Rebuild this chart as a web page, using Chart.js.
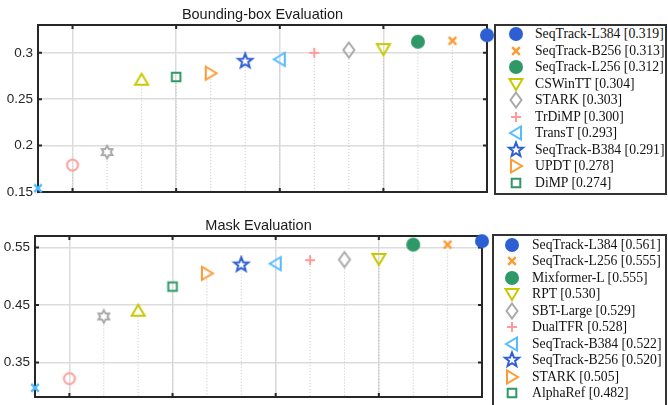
<!DOCTYPE html>
<html>
<head>
<meta charset="utf-8">
<script src="https://cdn.jsdelivr.net/npm/chart.js@4.4.1/dist/chart.umd.min.js"></script>
<style>
  html, body { margin: 0; padding: 0; background: #fff; }
  body { width: 668px; height: 405px; position: relative; overflow: hidden; }
  .plot { position: absolute; left: 0; }
  .legend {
    position: absolute; box-sizing: border-box; border: 2px solid #333; background: #fff;
    font-family: "Liberation Serif", serif; font-size: 13.7px; color: #111;
  }
  .legend .row { position: absolute; left: 0; right: 0; height: 16.5px; }
  .legend canvas { position: absolute; }
  .legend span { position: absolute; line-height: 16.5px; white-space: nowrap; }
</style>
</head>
<body>
<div class="plot" style="top:0;width:500px;height:200px"><canvas id="bboxChart"></canvas></div>
<div class="plot" style="top:200px;width:495px;height:205px"><canvas id="maskChart"></canvas></div>
<div class="legend" id="bboxLegend" style="left:494px;top:24px;width:173px;height:171px"></div>
<div class="legend" id="maskLegend" style="left:492px;top:234px;width:175px;height:180px"></div>
<script>
// ranked best -> worst; only the first ten appear in the legends
const bboxNames = ['SeqTrack-L384', 'SeqTrack-B256', 'SeqTrack-L256', 'CSWinTT', 'STARK',
  'TrDiMP', 'TransT', 'SeqTrack-B384', 'UPDT', 'DiMP'];
const bboxScores = [0.319, 0.313, 0.312, 0.304, 0.303, 0.300, 0.293, 0.291, 0.278, 0.274,
  0.271, 0.193, 0.179, 0.154];
const bboxTicks = [0.15, 0.2, 0.25, 0.3];

const maskNames = ['SeqTrack-L384', 'SeqTrack-L256', 'Mixformer-L', 'RPT', 'SBT-Large',
  'DualTFR', 'SeqTrack-B384', 'SeqTrack-B256', 'STARK', 'AlphaRef'];
const maskScores = [0.561, 0.555, 0.555, 0.530, 0.529, 0.528, 0.522, 0.520, 0.505, 0.482,
  0.440, 0.430, 0.322, 0.306];
const maskTicks = [0.35, 0.45, 0.55];

const rankTicks = [1, 4, 7, 10];

// marker style per rank
const shapes = ['disc', 'x', 'disc', 'triDown', 'diamond', 'plus', 'triLeft', 'star',
  'triRight', 'square', 'triUp', 'hexagram', 'ring', 'x'];
const colors = ['#2d5fd3', '#ff9933', '#2e9966', '#c8c800', '#aaaaaa', '#ff9a9a', '#55bbff',
  '#2d5fd3', '#ff9933', '#2e9966', '#c8c800', '#aaaaaa', '#ff9a9a', '#55bbff'];

function poly(g, pts) {
  g.moveTo(pts[0][0], pts[0][1]);
  pts.slice(1).forEach(p => g.lineTo(p[0], p[1]));
  g.closePath();
}

function starPts(n, ro, ri) {
  const pts = [];
  for (let k = 0; k < 2 * n; k++) {
    const r = k % 2 ? ri : ro;
    const a = -Math.PI / 2 + k * Math.PI / n;
    pts.push([r * Math.cos(a), r * Math.sin(a)]);
  }
  return pts;
}

function makeMarker(shape, color) {
  const c = document.createElement('canvas');
  c.width = 20; c.height = 20;
  const g = c.getContext('2d');
  g.translate(10, 10);
  g.strokeStyle = color;
  g.fillStyle = color;
  g.lineWidth = 2;
  g.beginPath();
  switch (shape) {
    case 'disc': g.arc(0, 0, 7, 0, Math.PI * 2); g.fill(); return c;
    case 'ring': g.arc(0, 0, 5.5, 0, Math.PI * 2); break;
    case 'x': g.moveTo(-3.8, -3.8); g.lineTo(3.8, 3.8); g.moveTo(3.8, -3.8); g.lineTo(-3.8, 3.8); g.lineWidth = 2.4; break;
    case 'plus': g.moveTo(-5, 0); g.lineTo(5, 0); g.moveTo(0, -5); g.lineTo(0, 5); break;
    case 'square': g.rect(-4.3, -4.3, 8.6, 8.6); break;
    case 'diamond': poly(g, [[0, -7.5], [5.5, 0], [0, 7.5], [-5.5, 0]]); break;
    case 'triUp': poly(g, [[0, -6], [6.5, 5], [-6.5, 5]]); break;
    case 'triDown': poly(g, [[0, 6], [6.5, -5], [-6.5, -5]]); break;
    case 'triRight': poly(g, [[6, 0], [-5, -6.5], [-5, 6.5]]); break;
    case 'triLeft': poly(g, [[-6, 0], [5, -6.5], [5, 6.5]]); break;
    case 'star': poly(g, starPts(5, 7.5, 3.2)); break;
    case 'hexagram': poly(g, starPts(6, 6.2, 3.6)); break;
  }
  g.stroke();
  return c;
}

// frame, inward ticks, dotted stems and the title
const framePlugin = {
  id: 'frame',
  beforeDatasetsDraw(chart, args, opts) {
    const { ctx, chartArea: a, scales: { x, y } } = chart;
    ctx.save();
    ctx.strokeStyle = '#c4c4c4';
    ctx.lineWidth = 1;
    ctx.setLineDash([1, 2]);
    chart.data.datasets.forEach((ds, i) => {
      const pt = chart.getDatasetMeta(i).data[0];
      ctx.beginPath();
      ctx.moveTo(pt.x, pt.y + 6);
      ctx.lineTo(pt.x, a.bottom);
      ctx.stroke();
    });
    ctx.setLineDash([]);
    ctx.strokeStyle = '#262626';
    ctx.lineWidth = 2;
    ctx.strokeRect(a.left, a.top, a.width, a.height);
    ctx.beginPath();
    rankTicks.forEach(v => {
      const px = x.getPixelForValue(v);
      ctx.moveTo(px, a.top); ctx.lineTo(px, a.top + 4);
      ctx.moveTo(px, a.bottom); ctx.lineTo(px, a.bottom - 4);
    });
    opts.ticks.forEach(v => {
      const py = y.getPixelForValue(v);
      ctx.moveTo(a.left, py); ctx.lineTo(a.left + 4, py);
      ctx.moveTo(a.right, py); ctx.lineTo(a.right - 4, py);
    });
    ctx.stroke();
    ctx.fillStyle = '#1a1a1a';
    ctx.font = '14.5px "Liberation Sans"';
    ctx.textAlign = 'center';
    ctx.textBaseline = 'middle';
    ctx.fillText(opts.title, (a.left + a.right) / 2, opts.titleY);
    ctx.restore();
  }
};

function makeChart(id, names, scores, ticks, yMin, yMax, axisW, pad, title, titleY) {
  const last = scores.length - 1;
  return new Chart(document.getElementById(id), {
    type: 'scatter',
    data: {
      datasets: scores.map((s, i) => ({
        label: names[i] || '',
        data: [{ x: last - i, y: s }],
        pointStyle: makeMarker(shapes[i], colors[i]),
        pointRadius: 7,
        clip: false
      }))
    },
    options: {
      responsive: true,
      maintainAspectRatio: false,
      animation: false,
      layout: { padding: pad },
      plugins: {
        legend: { display: false },
        tooltip: { enabled: false },
        frame: { ticks: ticks, title: title, titleY: titleY }
      },
      scales: {
        x: {
          type: 'linear', min: 0, max: last,
          afterBuildTicks: s => { s.ticks = rankTicks.map(v => ({ value: v })); },
          ticks: { display: false },
          grid: { color: '#dcdcdc', lineWidth: 1.5, drawTicks: false },
          border: { display: false }
        },
        y: {
          min: yMin, max: yMax,
          afterBuildTicks: s => { s.ticks = ticks.map(v => ({ value: v })); },
          afterFit: s => { s.width = axisW; s.paddingTop = 0; s.paddingBottom = 0; },
          ticks: {
            padding: 5, color: '#262626',
            font: { family: '"Liberation Sans"', size: 13.5 },
            callback: v => String(v)
          },
          grid: { color: '#dcdcdc', lineWidth: 1.5, drawTicks: false },
          border: { display: false }
        }
      }
    },
    plugins: [framePlugin]
  });
}

function buildLegend(id, names, scores, markerX, textX, top0) {
  const box = document.getElementById(id);
  names.forEach((n, i) => {
    const row = document.createElement('div');
    row.className = 'row';
    row.style.top = (top0 + i * 16.5) + 'px';
    const m = makeMarker(shapes[i], colors[i]);
    m.style.left = (markerX - 10) + 'px';
    m.style.top = '-1.75px';
    const t = document.createElement('span');
    t.style.left = textX + 'px';
    t.textContent = n + ' [' + scores[i].toFixed(3) + ']';
    row.appendChild(m);
    row.appendChild(t);
    box.appendChild(row);
  });
}

makeChart('bboxChart', bboxNames, bboxScores, bboxTicks, 0.15, 0.33, 38,
  { top: 25, bottom: 7, left: 0, right: 13 }, 'Bounding-box Evaluation', 15);
makeChart('maskChart', maskNames, maskScores, maskTicks, 0.29, 0.57, 35,
  { top: 36, bottom: 1, left: 0, right: 13 }, 'Mask Evaluation', 26);

buildLegend('bboxLegend', bboxNames, bboxScores, 20, 39, 0);
buildLegend('maskLegend', maskNames, maskScores, 18, 38, 0.7);
</script>
</body>
</html>
